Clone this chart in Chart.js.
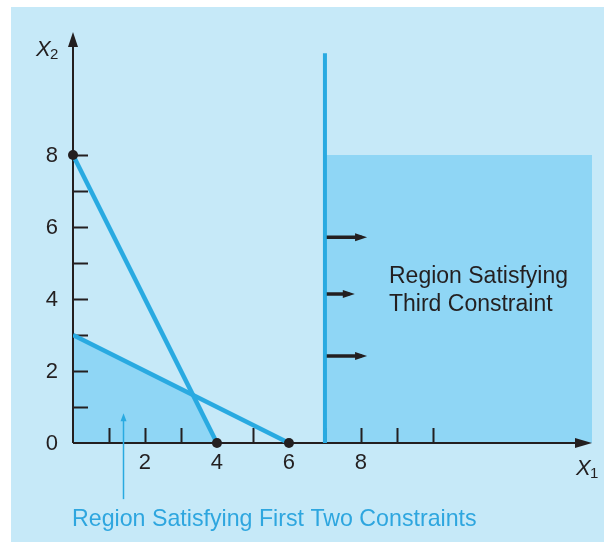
<!DOCTYPE html>
<html>
<head>
<meta charset="utf-8">
<script src="https://cdn.jsdelivr.net/npm/chart.js@4.4.0/dist/chart.umd.min.js"></script>
<style>
  html, body { margin: 0; padding: 0; background: #fff; }
  #chart { display: block; }
</style>
</head>
<body>
<canvas id="chart" width="604" height="542"></canvas>
<script>
// constraint lines
const constraintOne = [{ x: 0, y: 8 }, { x: 4, y: 0 }];
const constraintTwo = [{ x: 0, y: 3 }, { x: 6, y: 0 }];
const constraintThree = [{ x: 7, y: 0 }, { x: 7, y: 10.83 }];
// shaded regions (filled down to x2 = 0)
const firstTwoRegion = [{ x: 0, y: 3 }, { x: 3.33, y: 1.33 }, { x: 4, y: 0 }];
const thirdRegion = [{ x: 7, y: 8 }, { x: 14.42, y: 8 }];
// corner points
const cornerPoints = [{ x: 0, y: 8 }, { x: 4, y: 0 }, { x: 6, y: 0 }];
// arrows pointing into the third region: [y, tip x]
const arrowRows = [[5.72, 8.17], [4.14, 7.83], [2.42, 8.17]];
// pointer to the first region: x, bottom y, tip y
const pointerX = 1.39;
const pointerFrom = -1.56;
const pointerTo = 0.83;
// ticks and labels
const xTickMarks = [1, 2, 3, 5, 7, 8, 9, 10];
const yTickMarks = [1, 2, 3, 4, 5, 6, 7, 8];
const xTickLabels = [2, 4, 6, 8];
const yTickLabels = [0, 2, 4, 6, 8];
const xMax = 14.42;
const yMax = 11.42;

const INK = "#231f20";
const LINE = "#29aae1";
const FILL = "#8fd6f5";
const FONT = '"Liberation Sans", Arial, Helvetica, sans-serif';

function tri(ctx, tx, ty, dx, dy, len, half) {
  // arrowhead with tip at (tx, ty) pointing along (dx, dy)
  const px = -dy, py = dx;
  ctx.beginPath();
  ctx.moveTo(tx, ty);
  ctx.lineTo(tx - dx * len + px * half, ty - dy * len + py * half);
  ctx.lineTo(tx - dx * len - px * half, ty - dy * len - py * half);
  ctx.closePath();
  ctx.fill();
}

const decor = {
  id: "decor",
  beforeDraw(chart) {
    const ctx = chart.ctx;
    ctx.save();
    ctx.fillStyle = "#ffffff";
    ctx.fillRect(0, 0, chart.width, chart.height);
    ctx.fillStyle = "#c6e9f8";
    ctx.fillRect(11, 7, chart.width - 11, chart.height - 7);
    ctx.restore();
  },
  afterDatasetDraw(chart, args) {
    // axes go over the shaded regions but under the lines
    if (args.index !== 1) return;
    const ctx = chart.ctx;
    const xs = chart.scales.x, ys = chart.scales.y;
    const x0 = xs.getPixelForValue(0), y0 = ys.getPixelForValue(0);
    const xEnd = xs.getPixelForValue(xMax), yEnd = ys.getPixelForValue(yMax);
    ctx.save();
    ctx.strokeStyle = INK;
    ctx.fillStyle = INK;
    ctx.lineWidth = 2;
    ctx.beginPath();
    ctx.moveTo(x0, y0);
    ctx.lineTo(xEnd - 8, y0);
    ctx.moveTo(x0, y0);
    ctx.lineTo(x0, yEnd + 8);
    xTickMarks.forEach(v => {
      const p = Math.round(xs.getPixelForValue(v)) + 0.5;
      ctx.moveTo(p, y0);
      ctx.lineTo(p, y0 - 15);
    });
    yTickMarks.forEach(v => {
      const p = Math.round(ys.getPixelForValue(v)) + 0.5;
      ctx.moveTo(x0, p);
      ctx.lineTo(x0 + 15, p);
    });
    ctx.stroke();
    tri(ctx, xEnd, y0, 1, 0, 17, 5);
    tri(ctx, x0, yEnd, 0, -1, 15, 5);
    ctx.restore();
  },
  afterDatasetsDraw(chart) {
    const ctx = chart.ctx;
    const xs = chart.scales.x, ys = chart.scales.y;
    const x0 = xs.getPixelForValue(0), y0 = ys.getPixelForValue(0);
    ctx.save();
    // arrowheads on the constraint arrows
    ctx.fillStyle = INK;
    arrowRows.forEach(([y, tip]) => {
      tri(ctx, xs.getPixelForValue(tip), ys.getPixelForValue(y), 1, 0, 12, 4);
    });
    // tick labels
    ctx.font = "22px " + FONT;
    ctx.textBaseline = "middle";
    ctx.textAlign = "right";
    yTickLabels.forEach(v => ctx.fillText(String(v), x0 - 15, ys.getPixelForValue(v) + 1));
    ctx.textAlign = "center";
    xTickLabels.forEach(v => ctx.fillText(String(v), xs.getPixelForValue(v), y0 + 20));
    // axis titles
    ctx.textAlign = "left";
    ctx.textBaseline = "alphabetic";
    ctx.font = "italic 22px " + FONT;
    ctx.fillText("X", 36, 56);
    ctx.fillText("X", 576, 475);
    ctx.font = "15px " + FONT;
    ctx.fillText("2", 50, 59);
    ctx.fillText("1", 590, 478);
    // region labels
    ctx.font = "23px " + FONT;
    ctx.fillStyle = "#231f20";
    ctx.fillText("Region Satisfying", 389, 283);
    ctx.fillText("Third Constraint", 389, 311);
    ctx.font = "23.2px " + FONT;
    ctx.fillStyle = "#2ea6df";
    ctx.fillText("Region Satisfying First Two Constraints", 72, 526);
    // pointer
    const px = Math.round(xs.getPixelForValue(pointerX)) + 0.5;
    const pTo = ys.getPixelForValue(pointerTo);
    ctx.strokeStyle = LINE;
    ctx.fillStyle = LINE;
    ctx.lineWidth = 1.5;
    ctx.beginPath();
    ctx.moveTo(px, ys.getPixelForValue(pointerFrom));
    ctx.lineTo(px, pTo + 6);
    ctx.stroke();
    tri(ctx, px, pTo, 0, -1, 8, 3);
    ctx.restore();
  }
};

const arrowSets = arrowRows.map(([y, tip]) => ({
  data: [{ x: 7.05, y: y }, { x: tip - 0.15, y: y }],
  showLine: true,
  borderColor: INK,
  borderWidth: 3.5,
  pointRadius: 0,
  fill: false,
  order: 3
}));

new Chart(document.getElementById("chart"), {
  type: "scatter",
  data: {
    datasets: [
      {
        data: thirdRegion,
        showLine: true,
        borderWidth: 0,
        borderColor: "rgba(0,0,0,0)",
        backgroundColor: FILL,
        pointRadius: 0,
        fill: "origin",
        order: 10
      },
      {
        data: firstTwoRegion,
        showLine: true,
        borderWidth: 0,
        borderColor: "rgba(0,0,0,0)",
        backgroundColor: FILL,
        pointRadius: 0,
        fill: "origin",
        order: 9
      },
      {
        data: constraintOne,
        showLine: true,
        borderColor: LINE,
        borderWidth: 4.5,
        pointRadius: 0,
        fill: false,
        order: 5
      },
      {
        data: constraintTwo,
        showLine: true,
        borderColor: LINE,
        borderWidth: 4.5,
        pointRadius: 0,
        fill: false,
        order: 5
      },
      {
        data: constraintThree,
        showLine: true,
        borderColor: LINE,
        borderWidth: 4,
        pointRadius: 0,
        fill: false,
        order: 4
      },
      ...arrowSets,
      {
        data: cornerPoints,
        showLine: false,
        pointRadius: 5,
        pointBackgroundColor: INK,
        pointBorderWidth: 0,
        clip: false,
        order: 0
      }
    ]
  },
  options: {
    responsive: false,
    animation: false,
    events: [],
    layout: { padding: { left: 73, top: 32, right: 12, bottom: 99 } },
    scales: {
      x: { type: "linear", min: 0, max: xMax, display: false },
      y: { type: "linear", min: 0, max: yMax, display: false }
    },
    plugins: {
      legend: { display: false },
      tooltip: { enabled: false }
    }
  },
  plugins: [decor]
});
</script>
</body>
</html>
